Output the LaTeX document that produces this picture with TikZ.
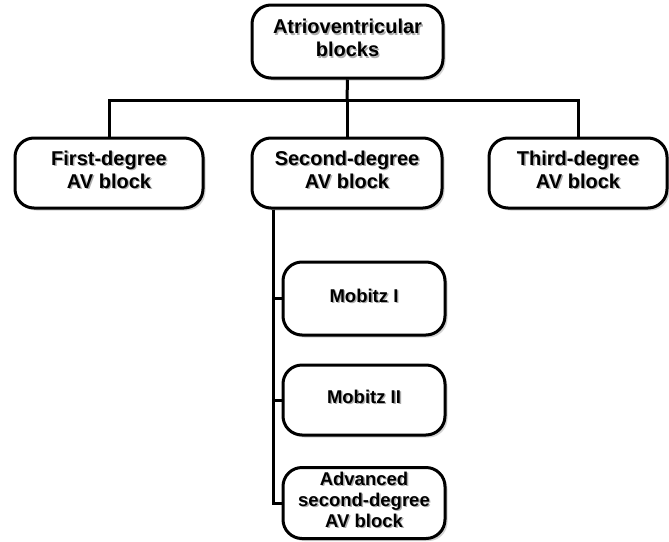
\documentclass[tikz,border=0pt]{standalone}
\usepackage{fontspec}
\setmainfont{Liberation Sans}
\usetikzlibrary{shadows}
\newcommand\shtext[1]{\leavevmode\rlap{\kern1.4pt\raisebox{-1.4pt}{\textcolor{black!32}{\begin{tabular}{@{}c@{}}#1\end{tabular}}}}\begin{tabular}{@{}c@{}}#1\end{tabular}}
\tikzset{
  box/.style={draw=black, line width=3pt, rounded corners=19pt, fill=white,
    inner sep=0pt, align=center, font=\bfseries\fontsize{20}{23}\selectfont,
    drop shadow={opacity=0.35, shadow xshift=2.5pt, shadow yshift=-2.5pt}},
  subbox/.style={box, font=\bfseries\fontsize{18.5}{21}\selectfont},
  conn/.style={draw=black, line width=3pt}
}
\begin{document}
\begin{tikzpicture}[x=1pt,y=-1pt]
\useasboundingbox (0,0) rectangle (669,541);
\node[box, minimum width=191pt, minimum height=73pt] (top) at (347.5,41.5) {\shtext{Atrioventricular\\blocks}};
\node[box, minimum width=188pt, minimum height=70pt] (first) at (109,173) {\shtext{First-degree\\AV block}};
\node[box, minimum width=190pt, minimum height=70pt] (second) at (347,173) {\shtext{Second-degree\\AV block}};
\node[box, minimum width=178pt, minimum height=70pt] (third) at (578,173) {\shtext{Third-degree\\AV block}};
\node[subbox, minimum width=162pt, minimum height=73pt] (m1) at (364,298.5) {\shtext{Mobitz I}};
\node[subbox, minimum width=162pt, minimum height=70pt] (m2) at (364,400) {\shtext{Mobitz II}};
\node[subbox, minimum width=162pt, minimum height=71pt] (adv) at (364,503) {\shtext{Advanced\\second-degree\\AV block}};
\coordinate (bar) at (347,100);
\draw[conn] (top.south) -- (bar);
\draw[conn] (bar) -| (first.north);
\draw[conn] (bar) -| (third.north);
\draw[conn] (bar) -- (second.north);
\draw[conn] ([xshift=-74pt]second.south) |- (m1.west);
\draw[conn] ([xshift=-74pt]second.south) |- (m2.west);
\draw[conn] ([xshift=-74pt]second.south) |- (adv.west);
\end{tikzpicture}
\end{document}
